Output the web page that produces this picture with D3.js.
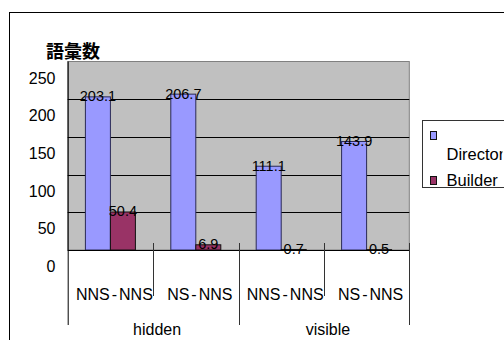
<!DOCTYPE html>
<html>
<head>
<meta charset="utf-8">
<script src="https://cdn.jsdelivr.net/npm/d3@7"></script>
<style>
  body { margin: 0; background: #fff; }
  svg { display: block; font-family: "Liberation Sans", Arial, sans-serif; }
</style>
</head>
<body>
<div id="chart"></div>
<script>
// data
const categories = ["NNS-NNS", "NS-NNS", "NNS-NNS", "NS-NNS"];
const groups = ["hidden", "visible"];
const series = ["Director", "Builder"];
const directorValues = [203.1, 206.7, 111.1, 143.9];
const builderValues = [50.4, 6.9, 0.7, 0.5];
const yTicks = [0, 50, 100, 150, 200, 250];
const colors = ["#9999ff", "#993366"];

const width = 504, height = 340;
const plot = { left: 67.7, right: 409.3, top: 61.5, bottom: 250 };

const svg = d3.select("#chart").append("svg")
    .attr("width", width)
    .attr("height", height);

// outer chart border (runs off the right and bottom)
svg.append("rect")
    .attr("x", 9.5).attr("y", 12.5)
    .attr("width", 600).attr("height", 400)
    .attr("fill", "none").attr("stroke", "#000");

const x0 = d3.scaleBand()
    .domain(d3.range(categories.length))
    .range([plot.left, plot.right])
    .paddingInner(0.4145)
    .paddingOuter(0.20725);
const step = x0.step();

const x1 = d3.scaleBand()
    .domain(series)
    .range([0, x0.bandwidth()]);

const y = d3.scaleLinear()
    .domain([0, 250])
    .range([plot.bottom, plot.top]);

// plot area
svg.append("rect")
    .attr("x", plot.left).attr("y", plot.top)
    .attr("width", plot.right - plot.left).attr("height", plot.bottom - plot.top)
    .attr("fill", "#c0c0c0").attr("stroke", "#808080");

// grid lines
svg.append("g").selectAll("line")
    .data(yTicks.filter(t => t > 0 && t < 250))
    .join("line")
    .attr("x1", plot.left).attr("x2", plot.right)
    .attr("y1", d => Math.round(y(d)) + 0.5).attr("y2", d => Math.round(y(d)) + 0.5)
    .attr("stroke", "#000");

// y tick labels (sit below their grid lines in the original)
svg.append("g").selectAll("text")
    .data(yTicks)
    .join("text")
    .attr("x", 55.5)
    .attr("y", d => y(d) + 22)
    .attr("text-anchor", "end")
    .attr("font-size", 16)
    .text(d => d);

// y title
svg.append("text")
    .attr("x", 46)
    .attr("y", 58)
    .attr("font-family", "'Noto Sans CJK JP', sans-serif")
    .attr("font-size", 18)
    .attr("font-weight", 700)
    .text("語彙数");

// bars
const rows = categories.map((c, i) => ({ i: i, values: [directorValues[i], builderValues[i]] }));

const cat = svg.append("g").selectAll("g")
    .data(rows)
    .join("g")
    .attr("transform", d => `translate(${x0(d.i)},0)`);

cat.selectAll("rect")
    .data(d => d.values.map((v, k) => ({ key: series[k], k: k, v: v })))
    .join("rect")
    .attr("x", d => x1(d.key))
    .attr("y", d => y(d.v))
    .attr("width", x1.bandwidth())
    .attr("height", d => y(0) - y(d.v))
    .attr("fill", d => colors[d.k])
    .attr("stroke", d => d.k == 0 ? "#2a2a55" : "#111")
    .attr("stroke-width", 1);

cat.selectAll("text")
    .data(d => d.values.map((v, k) => ({ key: series[k], v: v })))
    .join("text")
    .attr("x", d => x1(d.key) + x1.bandwidth() / 2)
    .attr("y", d => y(d.v) + 4.5)
    .attr("text-anchor", "middle")
    .attr("font-size", 14.5)
    .text(d => d.v);

// axes lines
svg.append("line")
    .attr("x1", plot.left).attr("x2", plot.right)
    .attr("y1", plot.bottom + 0.5).attr("y2", plot.bottom + 0.5)
    .attr("stroke", "#000");
svg.append("line")
    .attr("x1", plot.left + 0.5).attr("x2", plot.left + 0.5)
    .attr("y1", plot.top).attr("y2", 325)
    .attr("stroke", "#000");

// category / group separators
const bounds = d3.range(1, categories.length + 1).map(i => plot.left + step * i);
svg.append("g").selectAll("line")
    .data(bounds)
    .join("line")
    .attr("x1", d => Math.round(d) + 0.5).attr("x2", d => Math.round(d) + 0.5)
    .attr("y1", 243)
    .attr("y2", (d, i) => i % 2 == 1 ? 325 : 296)
    .attr("stroke", "#333");

// category labels
const catLabels = svg.append("g").selectAll("text")
    .data(categories)
    .join("text")
    .attr("x", (d, i) => plot.left + step * (i + 0.5) + 4)
    .attr("y", 300)
    .attr("text-anchor", "middle")
    .attr("font-size", 16);
catLabels.each(function (d) {
    const parts = d.split("-");
    const t = d3.select(this);
    t.append("tspan").text(parts[0]);
    t.append("tspan").attr("dx", 2).text("-");
    t.append("tspan").attr("dx", 2).text(parts[1]);
});

// group labels
svg.append("g").selectAll("text")
    .data(groups)
    .join("text")
    .attr("x", (d, i) => plot.left + step * (2 * i + 1) + 4)
    .attr("y", 335)
    .attr("text-anchor", "middle")
    .attr("font-size", 16)
    .text(d => d);

// legend (narrow box, "Director" wraps to the next line and is cut at the edge)
svg.append("clipPath").attr("id", "legclip")
    .append("rect").attr("x", 420).attr("y", 110).attr("width", 82.5).attr("height", 90);
const legend = svg.append("g");
legend.append("rect")
    .attr("x", 422.5).attr("y", 120.5)
    .attr("width", 120).attr("height", 67)
    .attr("fill", "#fff").attr("stroke", "#333");
const legendRows = [
    { name: series[0], color: colors[0], sy: 131.5, ty: 159.5 },
    { name: series[1], color: colors[1], sy: 176.5, ty: 186 }
];
legend.selectAll("rect.sw")
    .data(legendRows)
    .join("rect")
    .attr("class", "sw")
    .attr("x", 430.5).attr("y", d => d.sy)
    .attr("width", 6).attr("height", 8)
    .attr("fill", d => d.color).attr("stroke", "#111");
legend.append("g").attr("clip-path", "url(#legclip)")
    .selectAll("text")
    .data(legendRows)
    .join("text")
    .attr("x", 446.5).attr("y", d => d.ty)
    .attr("font-size", 16.5)
    .text(d => d.name);
</script>
</body>
</html>
